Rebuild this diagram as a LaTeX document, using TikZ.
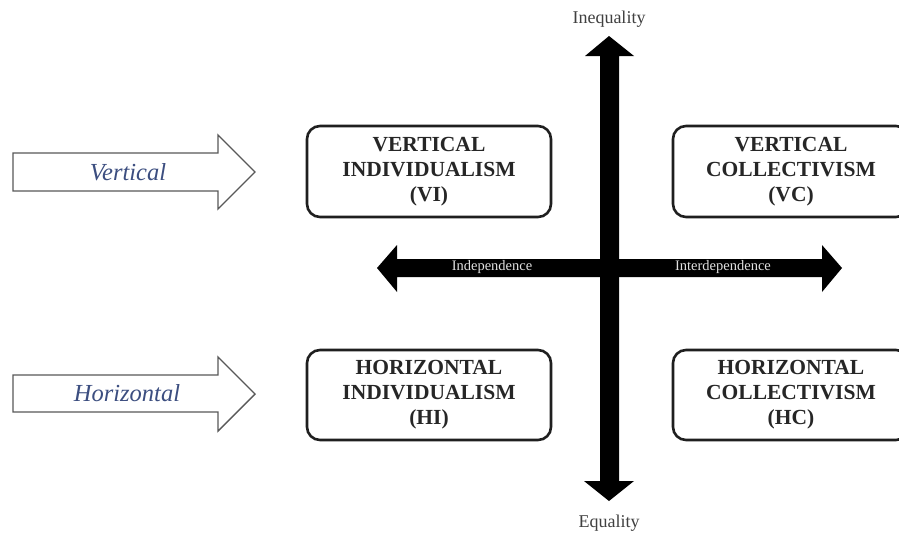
\documentclass[tikz,border=0pt]{standalone}
\usepackage{fontspec}
\setmainfont{Liberation Serif}
\begin{document}
\begin{tikzpicture}[x=1pt,y=-1pt,
  quad/.style={draw=black!88, line width=2.6pt, rounded corners=13pt, minimum width=244pt, minimum height=91pt, inner sep=0pt, align=center, text=black!85, font=\fontsize{21.5}{25}\selectfont\bfseries},
  hollow/.style={draw=black!65, line width=1.4pt, fill=white},
  axislbl/.style={text=black!75, font=\fontsize{18}{20}\selectfont},
  dirlbl/.style={text=white!88!black, font=\fontsize{14.5}{16}\selectfont},
  sidelbl/.style={text={rgb,255:red,60;green,78;blue,128}, font=\fontsize{24.5}{26}\selectfont\itshape}]
\useasboundingbox (0,0) rectangle (899,536);
\clip (0,0) rectangle (899,536);
\fill[white] (0,0) rectangle (899,536);
% axes
\fill[black] (609,36) -- (634,56) -- (619,56) -- (619,481) -- (634,481) -- (609,501) -- (584,481) -- (600,481) -- (600,56) -- (585,56) -- cycle;
\fill[black] (377,268) -- (397,245) -- (397,259) -- (822,259) -- (822,245) -- (842,268) -- (822,292) -- (822,277) -- (397,277) -- (397,292) -- cycle;
\node[axislbl] (ineq) at (609,19) {Inequality};
\node[axislbl] (eq) at (609,523) {Equality};
\node[dirlbl] (indep) at (492,267) {Independence};
\node[dirlbl] (inter) at (723,267) {Interdependence};
% boxes
\node[quad] (vi) at (429,171.5) {VERTICAL\\INDIVIDUALISM\\(VI)};
\node[quad, minimum width=236pt] (vc) at (791,171.5) {VERTICAL\\COLLECTIVISM\\(VC)};
\node[quad, minimum height=90pt] (hi) at (429,395) {HORIZONTAL\\INDIVIDUALISM\\(HI)};
\node[quad, minimum width=236pt, minimum height=90pt] (hc) at (791,395) {HORIZONTAL\\COLLECTIVISM\\(HC)};
% hollow arrows
\draw[hollow] (13,153) -- (218,153) -- (218,135) -- (255,172) -- (218,209) -- (218,191) -- (13,191) -- cycle;
\draw[hollow] (13,375) -- (218,375) -- (218,357) -- (255,394) -- (218,431) -- (218,412) -- (13,412) -- cycle;
\node[sidelbl] (vert) at (128,172) {Vertical};
\node[sidelbl] (horiz) at (127,393) {Horizontal};
\end{tikzpicture}
\end{document}
